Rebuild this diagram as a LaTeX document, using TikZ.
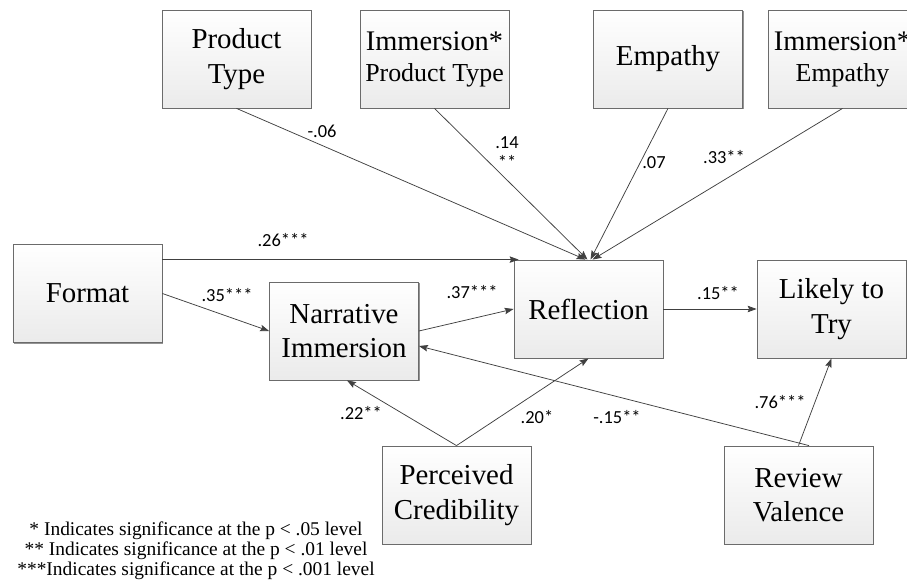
\documentclass[tikz,border=0pt]{standalone}
\usepackage{fontspec}
\setmainfont{Liberation Serif}
\newfontfamily\lblfont{Carlito}
\usetikzlibrary{arrows.meta,shadows}
\begin{document}
\begin{tikzpicture}[x=1bp,y=-1bp,
  box/.style={draw=black!58, line width=0.8bp, top color=white, bottom color=black!8,
    minimum width=149bp, minimum height=98bp, inner sep=0pt, align=center,
    font=\fontsize{29}{34.5}\selectfont,
    drop shadow={shadow xshift=1.3bp, shadow yshift=-1.3bp, opacity=0.7, fill=black!60}},
  sbox/.style={box, font=\fontsize{26}{31}\selectfont},
  arr/.style={draw=black!75, line width=0.75bp, -{Stealth[length=9bp,width=6.5bp,inset=1.5bp]}},
  lbl/.style={font=\lblfont\fontsize{18.5}{20}\selectfont, inner sep=0pt, align=center},
  note/.style={font=\fontsize{19.5}{22}\selectfont, inner sep=0pt, anchor=base},
]
\useasboundingbox (0,0) rectangle (907,580);
\clip (0,0) rectangle (907,580);

% boxes
\node[box]  (pt)   at (236.5,59)  {Product\\Type};
\node[sbox] (ipt)  at (434.5,59)  {{\fontsize{28.5}{31}\selectfont Immersion*}\\Product Type};
\node[box]  (emp)  at (668,59)    {Empathy};
\node[sbox] (iemp) at (842.5,59)  {{\fontsize{28.5}{31}\selectfont Immersion*}\\Empathy};
\node[box]  (fmt)  at (87.5,293.5) {Format};
\node[box]  (nar)  at (344,331)   {Narrative\\Immersion};
\node[box]  (ref)  at (588.5,309) {Reflection};
\node[box]  (lik)  at (831.5,309) {Likely to\\Try};
\node[box]  (pc)   at (456.5,495) {Perceived\\Credibility};
\node[box]  (rv)   at (798.5,495) {Review\\Valence};

% connectors
\draw[arr] (pt.south)   -- ([xshift=-3bp]ref.north);
\draw[arr] (ipt.south)  -- ([xshift=-1bp]ref.north);
\draw[arr] (emp.south)  -- ([xshift=2bp]ref.north);
\draw[arr] (iemp.south) -- ([xshift=4bp]ref.north);
\draw[arr] (fmt.north east |- ref.north) -- ([xshift=5bp]ref.north west);
\draw[arr] (fmt.east) -- (nar.west);
\draw[arr] (nar.east) -- (ref.west);
\draw[arr] (ref.east) -- (lik.west);
\draw[arr] ([xshift=10.5bp]rv.north) -- ([yshift=-15bp]nar.east);
\draw[arr] (rv.north) -- (lik.south);
\draw[arr] (pc.north) -- ([xshift=3bp]nar.south);
\draw[arr] (pc.north) -- (ref.south);

% coefficient labels
\node[lbl] (l1)  at (322,131) {-.06};
\node[lbl] (l2)  at (507,153) {.14\\**};
\node[lbl] (l3)  at (654,163) {.07};
\node[lbl] (l4)  at (724,157) {.33**};
\node[lbl] (l5)  at (283,240) {.26***};
\node[lbl] (l6)  at (227,295) {.35***};
\node[lbl] (l7)  at (472,292) {.37***};
\node[lbl] (l8)  at (718,293) {.15**};
\node[lbl] (l9)  at (780,402) {.76***};
\node[lbl] (l10) at (361,413) {.22**};
\node[lbl] (l11) at (537,417) {.20*};
\node[lbl] (l12) at (617,417) {-.15**};

% legend
\node[note] (n1) at (196,535) {* Indicates significance at the p < .05 level};
\node[note] (n2) at (196,555) {** Indicates significance at the p < .01 level};
\node[note] (n3) at (196,575) {***Indicates significance at the p < .001 level};
\end{tikzpicture}
\end{document}
